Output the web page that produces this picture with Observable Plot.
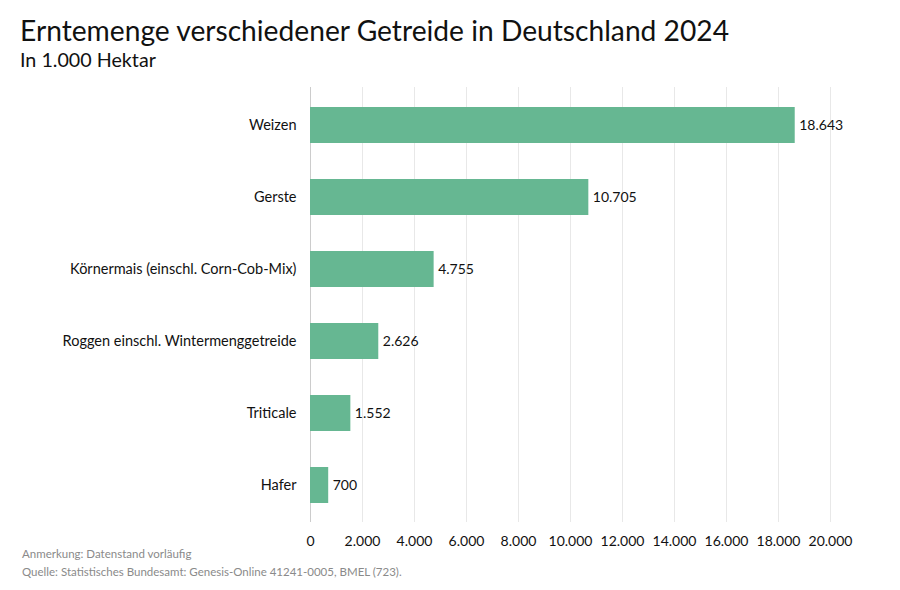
<!DOCTYPE html>
<html>
<head>
<meta charset="utf-8">
<script src="https://cdn.jsdelivr.net/npm/d3@7"></script>
<script src="https://cdn.jsdelivr.net/npm/@observablehq/plot@0.6"></script>
<style>
  body { margin: 0; background: #fff; font-family: Lato, "Noto Sans", sans-serif; color: #111; }
  #wrap { width: 900px; height: 590px; position: relative; overflow: hidden; }
  #title { position: absolute; left: 20px; top: 11px; font-size: 28.2px; line-height: 38px; white-space: nowrap; }
  #subtitle { position: absolute; left: 20px; top: 48px; font-size: 19.7px; line-height: 24px; white-space: nowrap; }
  #chart { position: absolute; left: 0; top: 80px; }
  #caption { position: absolute; left: 22px; top: 545px; font-size: 11.5px; line-height: 18px; color: #8a8a8a; white-space: nowrap; }
</style>
</head>
<body>
<div id="wrap">
  <div id="title">Erntemenge verschiedener Getreide in Deutschland 2024</div>
  <div id="subtitle">In 1.000 Hektar</div>
  <div id="chart"></div>
  <div id="caption">Anmerkung: Datenstand vorläufig<br>Quelle: Statistisches Bundesamt: Genesis-Online 41241-0005, BMEL (723).</div>
</div>
<script>
const categories = ["Weizen", "Gerste", "Körnermais (einschl. Corn-Cob-Mix)", "Roggen einschl. Wintermenggetreide", "Triticale", "Hafer"];
const values = [18643, 10705, 4755, 2626, 1552, 700];
const xTicks = [0, 2000, 4000, 6000, 8000, 10000, 12000, 14000, 16000, 18000, 20000];

const de = d3.formatLocale({decimal: ",", thousands: ".", grouping: [3], currency: ["", " €"]});
const fmt = de.format(",d");
const data = categories.map((c, i) => ({category: c, value: values[i]}));

const plot = Plot.plot({
  width: 900,
  height: 470,
  marginLeft: 310,
  marginRight: 70,
  marginTop: 7,
  marginBottom: 28,
  style: {fontFamily: "Lato, 'Noto Sans', sans-serif", fontSize: "14px", color: "#111", background: "#fff"},
  x: {domain: [0, 20000], ticks: xTicks, tickFormat: fmt, label: null},
  y: {domain: categories, paddingInner: 0.5, paddingOuter: 0.25, label: null},
  marks: [
    Plot.gridX(xTicks.filter(d => d > 0), {stroke: "#e8e8e8", strokeOpacity: 1}),
    Plot.ruleX([0], {stroke: "#cccccc"}),
    Plot.barX(data, {x: "value", y: "category", fill: "#66b792"}),
    Plot.text(data, {x: "value", y: "category", text: d => fmt(d.value), textAnchor: "start", dx: 4, fontSize: 14, fill: "#111"}),
    Plot.axisX({ticks: xTicks, tickFormat: fmt, tickSize: 0, tickPadding: 14, fontSize: 14, label: null}),
    Plot.axisY({tickSize: 0, tickPadding: 14, fontSize: 14.5, label: null})
  ]
});
document.getElementById("chart").appendChild(plot);
</script>
</body>
</html>
